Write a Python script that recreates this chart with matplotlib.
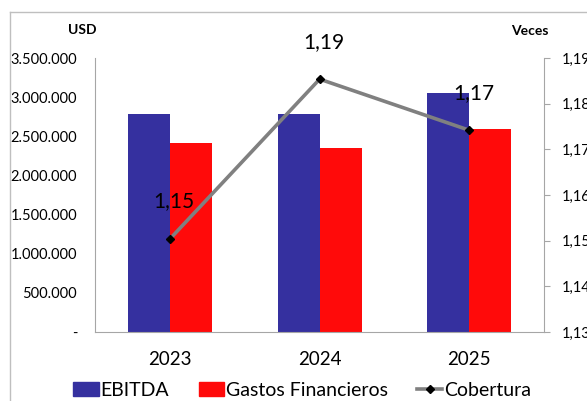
import matplotlib.pyplot as plt
import numpy as np
from matplotlib.lines import Line2D
from matplotlib.patches import Patch
from matplotlib.ticker import FuncFormatter

plt.rcParams['font.family'] = ['Lato', 'DejaVu Sans']

# data
years = ["2023", "2024", "2025"]
ebitda = [2785000, 2790000, 3050000]
gastos = [2420000, 2350000, 2600000]
cobertura = [1.1504, 1.1854, 1.1742]

blue = "#35309f"
red = "#ff0a0a"
grey = "#808080"

fig = plt.figure(figsize=(5.87, 4.01), dpi=100)
ax = fig.add_axes([0.162, 0.172, 0.765, 0.683])
x = np.arange(len(years))
w = 0.28

ax.bar(x - w / 2, ebitda, w, color=blue)
ax.bar(x + w / 2, gastos, w, color=red)
ax.set_xlim(-0.5, 2.5)
ax.set_ylim(0, 3500000)
ax.set_yticks(np.arange(0, 3500001, 500000))


def usd_fmt(v, pos):
    if v == 0:
        return "-"
    return f"{int(v):,}".replace(",", ".")


ax.yaxis.set_major_formatter(FuncFormatter(usd_fmt))
ax.set_xticks(x)
ax.set_xticklabels(years, fontsize=13.5)
ax.tick_params(axis='x', length=0, pad=14)
ax.tick_params(axis='y', length=0, pad=13, labelsize=10.5)
for s in ["top", "right"]:
    ax.spines[s].set_visible(False)
for s in ["left", "bottom"]:
    ax.spines[s].set_color("#a6a6a6")

ax2 = ax.twinx()
ax2.plot(x, cobertura, color=grey, lw=2.6, marker="D", ms=4.5,
         mfc="black", mec="black", zorder=5)
ax2.set_ylim(1.13, 1.19)
ax2.set_yticks(np.arange(1.13, 1.1901, 0.01))
ax2.yaxis.set_major_formatter(FuncFormatter(lambda v, p: f"{v:.2f}".replace(".", ",")))
ax2.tick_params(axis='y', length=4, color="#a6a6a6", labelsize=10.5, pad=9)
for s in ["top", "left", "bottom"]:
    ax2.spines[s].set_visible(False)
ax2.spines["right"].set_color("#a6a6a6")

for xi, v in zip(x, cobertura):
    ax2.annotate(f"{v:.2f}".replace(".", ","), (xi, v), xytext=(3, 27),
                 textcoords="offset points", ha="center", va="center",
                 fontsize=15)

fig.text(82 / 587, 1 - 30 / 401, "USD", fontsize=10, fontweight="bold",
         ha="center", va="center")
fig.text(530 / 587, 1 - 31 / 401, "Veces", fontsize=10, fontweight="bold",
         ha="center", va="center")

handles = [Patch(color=blue, label="EBITDA"),
           Patch(color=red, label="Gastos Financieros"),
           Line2D([], [], color=grey, lw=2.6, marker="D", ms=4.5,
                  mfc="black", mec="black", label="Cobertura")]
fig.legend(handles=handles, loc="center", bbox_to_anchor=(0.515, 1 - 390 / 401),
           ncol=3, frameon=False, fontsize=14, handlelength=1.3,
           handleheight=0.75, handletextpad=0.1, columnspacing=1.5)

# outer chart border
fig.add_artist(Line2D([10 / 587, 10 / 587], [0, 1 - 12 / 401], color="#bfbfbf", lw=1))
fig.add_artist(Line2D([10 / 587, 1], [1 - 12 / 401, 1 - 12 / 401], color="#bfbfbf", lw=1))

fig.savefig("out.png", dpi=100)
